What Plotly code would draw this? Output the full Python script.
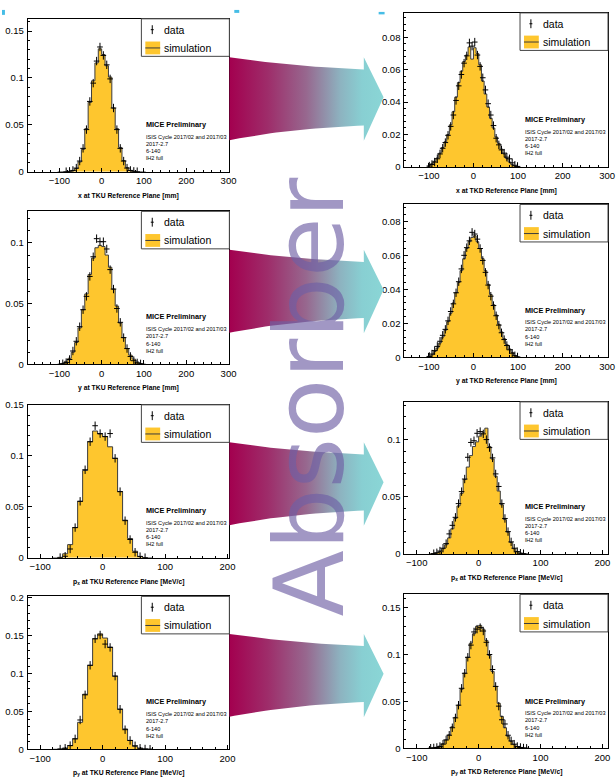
import plotly.graph_objects as go

W, H = 616, 784

# ---------------- data ----------------
pos_centers_tku = list(range(-100, 101, 8))          # mm, 8 mm bins
pos_centers_tkd = list(range(-99, 100, 6))           # mm, 6 mm bins
mom_centers_tku = list(range(-76, 77, 8))            # MeV/c, 8 MeV/c bins
mom_centers_tkd = [c + 0.5 for c in range(-78, 78, 5)]  # MeV/c, 5 MeV/c bins
width_pos_tku, width_pos_tkd, width_mom_tku, width_mom_tkd = 8, 6, 8, 5

x_tku_data = [None, None, 0.0002, 0.0005, 0.0015, 0.004, 0.0115, 0.025, 0.045, 0.075, 0.0945, 0.118, 0.133,
              0.124, 0.114, 0.099, 0.068, 0.045, 0.025, 0.0115, 0.004, 0.0015, 0.0005, 0.0002, None, None]
x_tku_sim = [0, 0.0001, 0.0002, 0.0004, 0.0012, 0.0035, 0.0105, 0.024, 0.046, 0.074, 0.097, 0.116, 0.131,
             0.125, 0.113, 0.101, 0.068, 0.046, 0.026, 0.012, 0.0045, 0.0015, 0.0005, 0.0002, 0.0001, 0]

x_tkd_data = [0.0005, 0.0015, 0.003, 0.005, 0.008, 0.0115, 0.015, 0.0195, 0.025, 0.032, 0.041, 0.050, 0.057,
              0.064, 0.0685, 0.0765, 0.0745, 0.077, 0.069, 0.062, 0.055, 0.0475, 0.039, 0.032, 0.0255, 0.0177,
              0.0136, 0.0105, 0.0085, 0.006, 0.005, 0.0025, 0.001, 0.0003]
x_tkd_sim = [0.0008, 0.002, 0.0035, 0.0055, 0.0085, 0.012, 0.0155, 0.020, 0.026, 0.034, 0.043, 0.052, 0.059,
             0.065, 0.069, 0.074, 0.0665, 0.0735, 0.070, 0.063, 0.053, 0.045, 0.037, 0.030, 0.024, 0.0185,
             0.0145, 0.011, 0.008, 0.0052, 0.003, 0.0014, 0.0005, 0.0002]

y_tku_data = [None, 0.0005, 0.0015, 0.004, 0.011, 0.019, 0.031, 0.045, 0.056, 0.0724, 0.0886, 0.1035, 0.101,
              0.101, 0.095, 0.078, 0.062, 0.046, 0.0346, 0.022, 0.013, 0.0065, 0.003, 0.0012, 0.0004, None]
y_tku_sim = [0.0002, 0.0008, 0.0025, 0.005, 0.010, 0.018, 0.030, 0.045, 0.058, 0.074, 0.0875, 0.096, 0.098,
             0.097, 0.090, 0.080, 0.062, 0.048, 0.034, 0.022, 0.013, 0.0076, 0.0043, 0.002, 0.0007, 0.0002]

y_tkd_data = [0.0006, 0.002, 0.004, 0.0065, 0.0095, 0.013, 0.0165, 0.0215, 0.027, 0.0315, 0.038, 0.0445, 0.052,
              0.060, 0.0645, 0.0685, 0.0735, 0.0725, 0.0695, 0.064, 0.057, 0.050, 0.0425, 0.036, 0.0305, 0.0245,
              0.019, 0.0145, 0.0105, 0.007, 0.0045, 0.0025, 0.001, 0.0003]
y_tkd_sim = [0.0005, 0.0015, 0.0035, 0.0055, 0.0085, 0.012, 0.016, 0.021, 0.026, 0.032, 0.038, 0.044, 0.051,
             0.058, 0.064, 0.068, 0.0705, 0.0715, 0.068, 0.064, 0.058, 0.051, 0.043, 0.037, 0.031, 0.025,
             0.0195, 0.015, 0.011, 0.0075, 0.005, 0.003, 0.0012, 0.0004]

px_tku_data = [None, 0.0003, 0.0016, 0.0087, 0.0297, 0.0555, 0.0865, 0.114, 0.1297, 0.122,
               0.119, 0.122, 0.0977, 0.065, 0.0365, 0.018, 0.0055, 0.0012, 0.0002, None]
px_tku_sim = [0, 0.0005, 0.004, 0.013, 0.0297, 0.0555, 0.0858, 0.114, 0.1245, 0.1216,
              0.119, 0.109, 0.0977, 0.065, 0.037, 0.019, 0.0065, 0.0015, 0.0003, 0]

px_tkd_data = [None, 0.0002, 0.001, 0.0025, 0.005, 0.009, 0.0175, 0.025, 0.032, 0.044, 0.0545, 0.0655, 0.0845,
               0.0975, 0.099, 0.1055, 0.107, 0.105, 0.100, 0.093, 0.084, 0.070, 0.059, 0.044, 0.031, 0.0195,
               0.0105, 0.005, 0.002, 0.0006, 0.0002, None]
px_tkd_sim = [0.0001, 0.0003, 0.0008, 0.002, 0.0045, 0.008, 0.014, 0.022, 0.031, 0.042, 0.053, 0.065, 0.076,
              0.086, 0.094, 0.098, 0.103, 0.106, 0.110, 0.094, 0.083, 0.068, 0.055, 0.043, 0.030, 0.019,
              0.010, 0.0045, 0.002, 0.0007, 0.0002, 0]

py_tku_data = [None, 0.0004, 0.0015, 0.005, 0.0139, 0.0388, 0.072, 0.111, 0.146, 0.151,
               0.139, 0.1346, 0.0967, 0.053, 0.026, 0.0118, 0.0048, 0.0015, 0.0005, 0.0002]
py_tku_sim = [0.0001, 0.0004, 0.0015, 0.005, 0.014, 0.0357, 0.0728, 0.111, 0.146, 0.1525,
              0.147, 0.135, 0.0967, 0.053, 0.027, 0.0118, 0.004, 0.0015, 0.0005, 0.0002]

py_tkd_data = [0.0002, 0.0005, 0.001, 0.002, 0.0045, 0.009, 0.014, 0.022, 0.0325, 0.046, 0.064, 0.080, 0.097,
               0.110, 0.124, 0.127, 0.1286, 0.125, 0.113, 0.100, 0.084, 0.066, 0.045, 0.0305, 0.026, 0.014,
               0.008, 0.0045, 0.002, 0.001, 0.0004, 0.0001]
py_tkd_sim = [0.0003, 0.0006, 0.0012, 0.0025, 0.005, 0.009, 0.0145, 0.023, 0.033, 0.046, 0.063, 0.080, 0.097,
              0.112, 0.122, 0.130, 0.131, 0.127, 0.115, 0.099, 0.082, 0.066, 0.048, 0.034, 0.022, 0.013,
              0.0075, 0.004, 0.002, 0.001, 0.0004, 0.0002]

x_titles = ["x at TKU Reference Plane [mm]", "x at TKD Reference Plane [mm]",
            "y at TKU Reference Plane [mm]", "y at TKD Reference Plane [mm]",
            "p<sub>x</sub> at TKU Reference Plane [MeV/c]", "p<sub>x</sub> at TKD Reference Plane [MeV/c]",
            "p<sub>y</sub> at TKU Reference Plane [MeV/c]", "p<sub>y</sub> at TKD Reference Plane [MeV/c]"]
legend_labels = ["data", "simulation"]
info_title = "MICE Preliminary"
info_lines = ["ISIS Cycle 2017/02 and 2017/03", "2017-2.7", "6-140", "lH2 full"]
banner_text = "Absorber"

# ---------------- layout helpers ----------------
panels = [
    dict(c=pos_centers_tku, w=width_pos_tku, d=x_tku_data, s=x_tku_sim, frame=(28, 14, 232, 169), xr=[-175, 302], yr=[0, 0.163], dt=0.05),
    dict(c=pos_centers_tkd, w=width_pos_tkd, d=x_tkd_data, s=x_tkd_sim, frame=(409, 8, 615, 164), xr=[-155, 302], yr=[0, 0.095], dt=0.02),
    dict(c=pos_centers_tku, w=width_pos_tku, d=y_tku_data, s=y_tku_sim, frame=(28, 209, 232, 364), xr=[-175, 302], yr=[0, 0.126], dt=0.05),
    dict(c=pos_centers_tkd, w=width_pos_tkd, d=y_tkd_data, s=y_tkd_sim, frame=(409, 202, 615, 357), xr=[-155, 302], yr=[0, 0.0899], dt=0.02),
    dict(c=mom_centers_tku, w=width_mom_tku, d=px_tku_data, s=px_tku_sim, frame=(28, 405, 232, 560), xr=[-120, 203], yr=[0, 0.1502], dt=0.05),
    dict(c=mom_centers_tkd, w=width_mom_tkd, d=px_tkd_data, s=px_tkd_sim, frame=(409, 402, 615, 556), xr=[-120, 209], yr=[0, 0.133], dt=0.05),
    dict(c=mom_centers_tku, w=width_mom_tku, d=py_tku_data, s=py_tku_sim, frame=(28, 599, 232, 754), xr=[-120, 203], yr=[0, 0.202], dt=0.05),
    dict(c=mom_centers_tkd, w=width_mom_tkd, d=py_tkd_data, s=py_tkd_sim, frame=(409, 597, 615, 753), xr=[-120, 209], yr=[0, 0.164], dt=0.05),
]

FONT = "Liberation Sans, Arial, Helvetica, sans-serif"
ORANGE = "#FEC62E"
LINEC = "#3c3c3c"


def px(x):
    return x / W


def py(y):
    return 1 - y / H


def step_xy(centers, width, values):
    xs, ys = [centers[0] - width / 2], [0]
    for c, v in zip(centers, values):
        xs.append(c - width / 2)
        ys.append(v)
    xs += [centers[-1] + width / 2, centers[-1] + width / 2]
    ys += [values[-1], 0]
    return xs, ys


fig = go.Figure()
shapes, annotations = [], []

for i, p in enumerate(panels, start=1):
    l, t, r, b = p["frame"]
    xa = "x" if i == 1 else f"x{i}"
    ya = "y" if i == 1 else f"y{i}"
    sx, sy = step_xy(p["c"], p["w"], p["s"])
    fig.add_trace(go.Scatter(x=sx, y=sy, xaxis=xa, yaxis=ya, mode="lines", line_shape="hv",
                             fill="tozeroy", fillcolor=ORANGE, line=dict(color=LINEC, width=1),
                             showlegend=False, hoverinfo="skip"))
    fig.add_trace(go.Scatter(x=p["c"], y=p["d"], xaxis=xa, yaxis=ya, mode="markers",
                             marker=dict(symbol="line-ns", size=6, line=dict(color="black", width=1)),
                             showlegend=False))
    fig.add_trace(go.Scatter(x=p["c"], y=p["d"], xaxis=xa, yaxis=ya, mode="markers",
                             marker=dict(symbol="line-ew", size=4, line=dict(color="black", width=1)),
                             showlegend=False))
    axis_common = dict(showline=True, linecolor="black", linewidth=1, mirror=True, showgrid=False,
                       zeroline=False, ticks="inside", ticklen=4, tickcolor="black",
                       tickfont=dict(family=FONT, size=9.5, color="black"))
    fig.update_layout(**{
        ("xaxis" if i == 1 else f"xaxis{i}"): dict(domain=[px(l), px(r)], range=p["xr"], anchor=ya,
                                                   dtick=100, tick0=0,
                                                   minor=dict(dtick=20, ticks="inside", ticklen=2, tickcolor="black"),
                                                   **axis_common),
        ("yaxis" if i == 1 else f"yaxis{i}"): dict(domain=[py(b), py(t)], range=p["yr"], anchor=xa,
                                                   dtick=p["dt"], tick0=0,
                                                   minor=dict(dtick=p["dt"] / 5, ticks="inside", ticklen=2, tickcolor="black"),
                                                   ticklabelstandoff=1,
                                                   **axis_common),
    })
    # legend box
    shapes.append(dict(type="rect", xref="paper", yref="paper", x0=px(r - 89), x1=px(r), y0=py(t + 38), y1=py(t),
                       line=dict(color="#444", width=1), fillcolor="white", layer="above"))
    shapes.append(dict(type="line", xref="paper", yref="paper", x0=px(r - 78), x1=px(r - 78), y0=py(t + 15.5), y1=py(t + 6.5),
                       line=dict(color="black", width=1), layer="above"))
    shapes.append(dict(type="line", xref="paper", yref="paper", x0=px(r - 79.5), x1=px(r - 76.5), y0=py(t + 11), y1=py(t + 11),
                       line=dict(color="black", width=1), layer="above"))
    shapes.append(dict(type="rect", xref="paper", yref="paper", x0=px(r - 85), x1=px(r - 70), y0=py(t + 36), y1=py(t + 23),
                       line=dict(width=0), fillcolor=ORANGE, layer="above"))
    shapes.append(dict(type="line", xref="paper", yref="paper", x0=px(r - 85), x1=px(r - 70), y0=py(t + 29.5), y1=py(t + 29.5),
                       line=dict(color=LINEC, width=1), layer="above"))
    for txt, yy in zip(legend_labels, (t + 11, t + 29.5)):
        annotations.append(dict(text=txt, xref="paper", yref="paper", x=px(r - 68), y=py(yy), xanchor="left",
                                yanchor="middle", showarrow=False, font=dict(family=FONT, size=10.5, color="black")))
    # info block
    annotations.append(dict(text=info_title, xref="paper", yref="paper", x=px(r - 86), y=py(b - 48),
                            xanchor="left", yanchor="middle", showarrow=False,
                            font=dict(family=FONT, size=7.3, color="black", weight="bold")))
    for txt, off in zip(info_lines, (35.5, 28.5, 21, 14)):
        annotations.append(dict(text=txt, xref="paper", yref="paper", x=px(r - 86), y=py(b - off),
                                xanchor="left", yanchor="middle", showarrow=False,
                                font=dict(family=FONT, size=5.6, color="black")))
    # x-axis title
    annotations.append(dict(text=x_titles[i - 1], xref="paper", yref="paper", x=px((l + r) / 2),
                            y=py(b + 24), xanchor="center", yanchor="middle", showarrow=False,
                            font=dict(family=FONT, size=6.8, color="black", weight="bold")))

# ---------------- decorative arrows (pixel overlay axis) ----------------
def bez(p0, c, p2, n=24):
    pts = []
    for k in range(n + 1):
        s = k / n
        pts.append(((1 - s) ** 2 * p0[0] + 2 * (1 - s) * s * c[0] + s ** 2 * p2[0],
                    (1 - s) ** 2 * p0[1] + 2 * (1 - s) * s * c[1] + s ** 2 * p2[1]))
    return pts


arrow_tops = [53, 248, 443, 637]
arrow_scale = [[0, "#A3004F"], [0.25, "#9E2D6A"], [0.5, "#97688F"], [0.72, "#8DB3C0"],
               [0.86, "#88CFD2"], [1, "#8AD6D6"]]
for T in arrow_tops:
    x0 = 232
    top = bez((0, 0), (60, 9), (136, 12.3))
    bot = bez((0, 84), (60, 72), (136, 69))
    pts = top + [(136, 0), (156, 40.5), (136, 84.5)] + bot[::-1] + [(0, 0)]
    fig.add_trace(go.Scatter(x=[x0 + a for a, _ in pts], y=[T + bb for _, bb in pts], xaxis="x9", yaxis="y9",
                             mode="lines", line=dict(width=0), fill="toself",
                             fillgradient=dict(type="horizontal", colorscale=arrow_scale),
                             showlegend=False, hoverinfo="skip"))

fig.update_layout(
    xaxis9=dict(domain=[0, 1], range=[0, W], visible=False, anchor="y9", fixedrange=True),
    yaxis9=dict(domain=[0, 1], range=[H, 0], visible=False, anchor="x9", fixedrange=True),
)

# small cyan marks at the top edge
for (a, bb, c, d) in [(2, 5, 5, 10), (237, 5, 242, 8), (383, 7, 389, 9.5)]:
    shapes.append(dict(type="rect", xref="paper", yref="paper", x0=px(a), x1=px(c), y0=py(d), y1=py(bb),
                       line=dict(width=0), fillcolor="#46BDE6", layer="above"))

# big "Absorber" banner
annotations.append(dict(text=banner_text, xref="paper", yref="paper", x=px(313), y=py(397), textangle=-90,
                        showarrow=False, xanchor="center", yanchor="middle",
                        font=dict(family="DejaVu Sans, sans-serif", size=97, color="rgba(110,95,165,0.65)")))

fig.update_layout(width=W, height=H, margin=dict(l=0, r=0, t=0, b=0), paper_bgcolor="white",
                  plot_bgcolor="rgba(0,0,0,0)", showlegend=False, shapes=shapes, annotations=annotations,
                  font=dict(family=FONT), hovermode=False)

fig.write_html("out.html", config={"displayModeBar": False, "staticPlot": True},
               post_script="document.body.style.margin='0px';document.body.style.padding='0px';"
                           "document.body.style.overflow='hidden';")
